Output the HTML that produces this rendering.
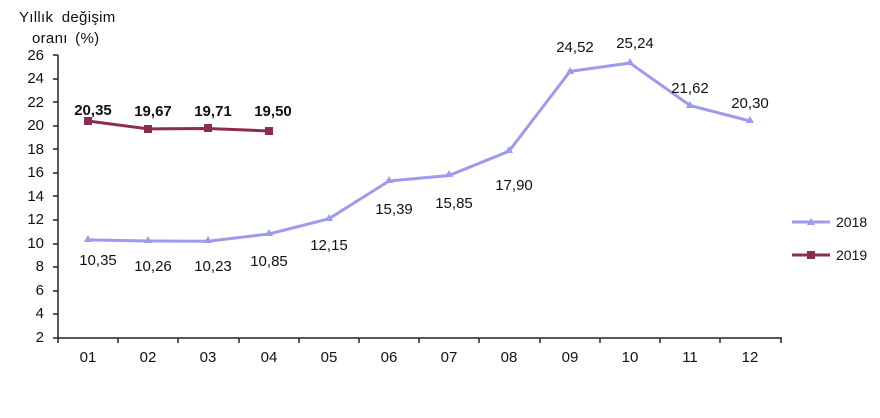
<!DOCTYPE html><html><head><style>body{margin:0;background:#fff}svg text{font-family:"Liberation Sans",Arial,sans-serif;fill:#111}</style></head><body>
<svg width="880" height="413" xmlns="http://www.w3.org/2000/svg">
<text x="19" y="22" font-size="15" letter-spacing="0.3" word-spacing="4">Yıllık  değişim</text>
<text x="32" y="43" font-size="15" letter-spacing="0.3" word-spacing="3">oranı  (%)</text>
<g font-size="15" text-anchor="end">
<text x="44" y="60">26</text><text x="44" y="83">24</text><text x="44" y="107">22</text><text x="44" y="130">20</text><text x="44" y="154">18</text><text x="44" y="177">16</text><text x="44" y="201">14</text><text x="44" y="224">12</text><text x="44" y="248">10</text><text x="44" y="271">8</text><text x="44" y="295">6</text><text x="44" y="318">4</text><text x="44" y="342">2</text>
</g>
<g stroke="#222" stroke-width="1.5">
<line x1="58" y1="55" x2="58" y2="338"/><line x1="58" y1="338" x2="782" y2="338"/>
<path d="M53 55H58M53 79H58M53 102H58M53 126H58M53 149H58M53 173H58M53 196H58M53 220H58M53 244H58M53 267H58M53 291H58M53 314H58M53 338H58"/>
<path d="M58 338v5M118 338v5M178 338v5M239 338v5M299 338v5M359 338v5M419 338v5M479 338v5M540 338v5M600 338v5M660 338v5M720 338v5M781 338v5"/>
</g>
<g font-size="15" text-anchor="middle">
<text x="88" y="362">01</text><text x="148" y="362">02</text><text x="208" y="362">03</text><text x="269" y="362">04</text><text x="329" y="362">05</text><text x="389" y="362">06</text><text x="449" y="362">07</text><text x="509" y="362">08</text><text x="570" y="362">09</text><text x="630" y="362">10</text><text x="690" y="362">11</text><text x="750" y="362">12</text>
</g>
<polyline fill="none" stroke="#9d9bec" stroke-width="3" points="88,239.9 148,241 208,241.3 269,234 329,218.7 389,181 449,175.5 509,151.2 570,71.4 630,63 690,105.5 750,121"/>
<g fill="#9d9bec">
<path d="M88,235l4,7h-8z M148,236l4,7h-8z M208,236l4,7h-8z M269,229l4,7h-8z M329,214l4,7h-8z M389,176l4,7h-8z M449,170l4,7h-8z M509,146l4,7h-8z M570,67l4,7h-8z M630,58l4,7h-8z M690,101l4,7h-8z M750,116l4,7h-8z"/>
</g>
<g font-size="15" text-anchor="middle">
<text x="98" y="265">10,35</text><text x="153" y="271">10,26</text><text x="213" y="271">10,23</text><text x="269" y="266">10,85</text><text x="329" y="250">12,15</text><text x="394" y="214">15,39</text><text x="454" y="208">15,85</text><text x="514" y="190">17,90</text><text x="575" y="52">24,52</text><text x="635" y="48">25,24</text><text x="690" y="93">21,62</text><text x="750" y="108">20,30</text>
</g>
<polyline fill="none" stroke="#8b2c55" stroke-width="3" points="88,121 148,128.9 208,128.5 269,131"/>
<g fill="#8b2c55"><rect x="84" y="117" width="8" height="8"/><rect x="144" y="125" width="8" height="8"/><rect x="204" y="124" width="8" height="8"/><rect x="265" y="127" width="8" height="8"/></g>
<g font-size="15" font-weight="bold" text-anchor="middle">
<text x="93" y="115">20,35</text><text x="153" y="116">19,67</text><text x="213" y="116">19,71</text><text x="273" y="116">19,50</text>
</g>
<line x1="792" y1="222" x2="830" y2="222" stroke="#9d9bec" stroke-width="3"/><path d="M811,218l4,7h-8z" fill="#9d9bec"/>
<text x="836" y="227" font-size="14">2018</text>
<line x1="792" y1="255" x2="830" y2="255" stroke="#8b2c55" stroke-width="3"/><rect x="807" y="251" width="8" height="8" fill="#8b2c55"/>
<text x="836" y="260" font-size="14">2019</text>
</svg></body></html>
